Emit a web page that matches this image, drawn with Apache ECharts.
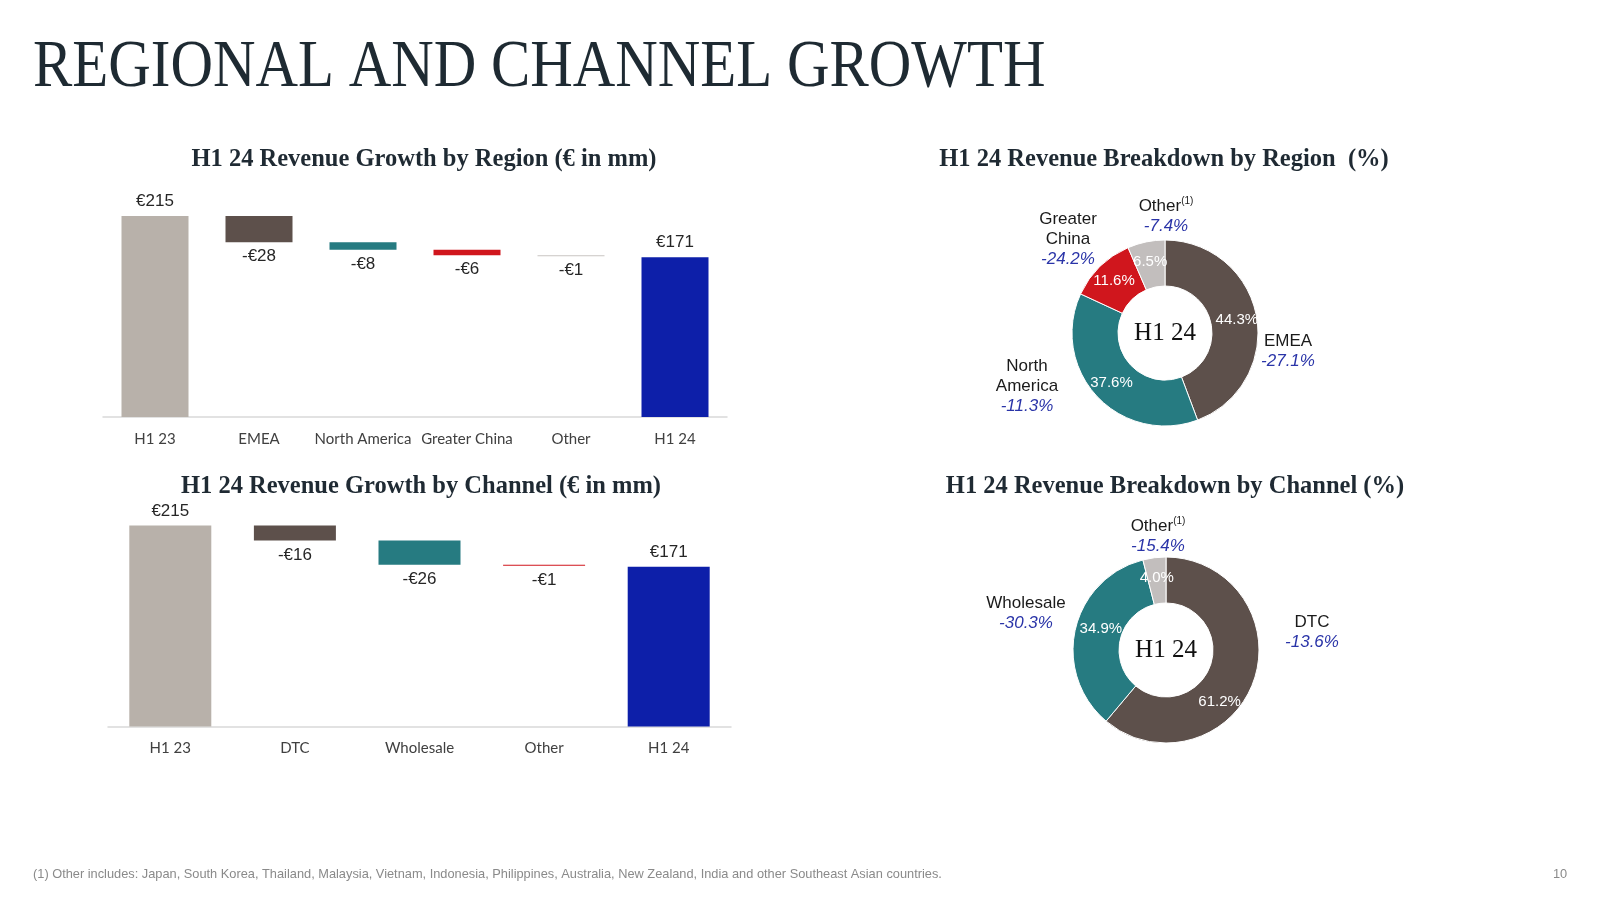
<!DOCTYPE html>
<html>
<head>
<meta charset="utf-8">
<style>
html,body{margin:0;padding:0;background:#fff;}
#c{width:1600px;height:899px;}
</style>
<script src="https://cdn.jsdelivr.net/npm/echarts@6/dist/echarts.min.js"></script>
</head>
<body>
<div id="c"></div>
<script>
// ---------- DATA ----------
const regionCats = ['H1 23', 'EMEA', 'North America', 'Greater China', 'Other', 'H1 24'];
const regionStart = 215;
const regionDeltas = [-28, -8, -6, -1];
const regionEnd = 171;

const channelCats = ['H1 23', 'DTC', 'Wholesale', 'Other', 'H1 24'];
const channelStart = 215;
const channelDeltas = [-16, -26, -1];
const channelEnd = 171;

const regionShareNames = ['EMEA', 'North America', 'Greater China', 'Other'];
const regionShares = [44.3, 37.6, 11.6, 6.5];
const regionGrowth = [-27.1, -11.3, -24.2, -7.4];

const channelShareNames = ['DTC', 'Wholesale', 'Other'];
const channelShares = [61.2, 34.9, 4.0];
const channelGrowth = [-13.6, -30.3, -15.4];

const titleText = 'REGIONAL AND CHANNEL GROWTH';
const footnote = '(1) Other includes: Japan, South Korea, Thailand, Malaysia, Vietnam, Indonesia, Philippines, Australia, New Zealand, India and other Southeast Asian countries.';

// ---------- STYLE ----------
const C_GRAY = '#b8b1aa', C_BROWN = '#5d504b', C_TEAL = '#267b81', C_RED = '#d0161d',
      C_BLUE = '#0d1fa9', C_LIGHT = '#c9c5c2', C_PIEGRAY = '#c2bebd', C_GROWTH = '#2a34a8';
const regionBarColors = [C_GRAY, C_BROWN, C_TEAL, C_RED, C_LIGHT, C_BLUE];
const channelBarColors = [C_GRAY, C_BROWN, C_TEAL, C_RED, C_BLUE];
const regionPieColors = [C_BROWN, C_TEAL, C_RED, C_PIEGRAY];
const channelPieColors = [C_BROWN, C_TEAL, C_PIEGRAY];
const regionDisplay = ['EMEA', 'North\nAmerica', 'Greater\nChina', 'Other'];
const channelDisplay = ['DTC', 'Wholesale', 'Other'];
const regionCenter = [1165, 333], channelCenter = [1166, 650];
const regionLabelOff = [[123, 18], [-138, 53], [-97, -94], [1, -117]];
const channelLabelOff = [[146, -18], [-140, -37], [-8, -114]];
const channelInsideOff = [[-15, 27], [6, -5], [0, 0]];
const SANS = '"Liberation Sans", Arial, sans-serif';
const SERIF = '"Liberation Serif", "DejaVu Serif", serif';

function euro(v) { return v < 0 ? '-€' + (-v) : '€' + v; }

function waterfall(start, deltas, end) {
  const base = [0], vals = [start], signed = [start];
  let level = start;
  deltas.forEach(d => { level += d; base.push(level); vals.push(-d); signed.push(d); });
  base.push(0); vals.push(end); signed.push(end);
  return { base, vals, signed };
}

function barSeries(wf, colors, axisIdx) {
  const n = wf.vals.length;
  const bw = axisIdx === 0 ? 67 : 82;
  return [
    {
      type: 'bar', xAxisIndex: axisIdx, yAxisIndex: axisIdx, stack: 'w' + axisIdx,
      data: wf.base, silent: true, itemStyle: { color: 'rgba(0,0,0,0)' }, barWidth: bw
    },
    {
      type: 'bar', xAxisIndex: axisIdx, yAxisIndex: axisIdx, stack: 'w' + axisIdx,
      barWidth: bw,
      data: wf.vals.map((v, i) => ({
        value: v,
        itemStyle: { color: colors[i] },
        label: { position: (i === 0 || i === n - 1) ? 'top' : 'bottom' }
      })),
      label: {
        show: true, distance: 6, fontFamily: SANS, fontSize: 17, color: '#262626',
        formatter: p => euro(wf.signed[p.dataIndex])
      }
    }
  ];
}

const rw = waterfall(regionStart, regionDeltas, regionEnd);
const cw = waterfall(channelStart, channelDeltas, channelEnd);

function outerLabels(names, shares, display, growth, center, offs) {
  return {
    type: 'pie', radius: [47, 93], center: center, silent: true, avoidLabelOverlap: false,
    itemStyle: { color: 'rgba(0,0,0,0)' },
    data: names.map((n, i) => ({ name: n, value: shares[i] })),
    label: {
      show: true, position: 'outside',
      formatter: p => {
        const i = p.dataIndex;
        const nm = display[i].split('\n').map(l => '{n|' + l + '}').join('\n');
        const sup = names[i] === 'Other' ? '{s|(1)}' : '';
        return nm + sup + '\n{g|' + growth[i].toFixed(1) + '%}';
      },
      rich: {
        n: { fontFamily: SANS, fontSize: 17, color: '#1a1a1a', lineHeight: 20, align: 'center' },
        s: { fontFamily: SANS, fontSize: 10, color: '#1a1a1a', lineHeight: 20, verticalAlign: 'top', padding: [0, 0, 6, 0] },
        g: { fontFamily: SANS, fontSize: 17, fontStyle: 'italic', color: C_GROWTH, lineHeight: 20, align: 'center' }
      }
    },
    labelLine: { show: false },
    labelLayout: p => ({
      x: center[0] + offs[p.dataIndex][0], y: center[1] + offs[p.dataIndex][1],
      align: 'center', verticalAlign: 'middle'
    })
  };
}

function donut(names, shares, colors, center, insideOff) {
  const s = {
    type: 'pie', radius: [47, 93], center: center, startAngle: 90, clockwise: true,
    avoidLabelOverlap: false,
    itemStyle: { borderColor: '#fff', borderWidth: 1 },
    data: names.map((n, i) => ({ name: n, value: shares[i], itemStyle: { color: colors[i] } })),
    label: {
      show: true, position: 'inside', fontFamily: SANS, fontSize: 15, color: '#fff',
      formatter: p => p.value.toFixed(1) + '%'
    },
    labelLine: { show: false }
  };
  if (insideOff) s.labelLayout = p => ({ dx: insideOff[p.dataIndex][0], dy: insideOff[p.dataIndex][1] });
  return s;
}

const subStyle = { fontFamily: SERIF, fontSize: 24.5, fontWeight: 'bold', fill: '#1f2a33', textAlign: 'center', textVerticalAlign: 'middle' };
const axisLabelTop = { fontFamily: 'Lato, sans-serif', fontSize: 15, color: '#404040', margin: 15, interval: 0 };
const axisLabelBottom = { fontFamily: 'Lato, sans-serif', fontSize: 15, color: '#404040', margin: 14.5, interval: 0 };

const option = {
  backgroundColor: '#fff',
  animation: false,
  grid: [
    { left: 103, top: 216, width: 624, height: 201 },
    { left: 108, top: 525.5, width: 623, height: 201 }
  ],
  xAxis: [
    {
      gridIndex: 0, type: 'category', data: regionCats,
      axisLine: { lineStyle: { color: '#d9d9d9', width: 1.5 } }, axisTick: { show: false },
      axisLabel: axisLabelTop
    },
    {
      gridIndex: 1, type: 'category', data: channelCats,
      axisLine: { lineStyle: { color: '#d9d9d9', width: 1.5 } }, axisTick: { show: false },
      axisLabel: axisLabelBottom
    }
  ],
  yAxis: [
    { gridIndex: 0, type: 'value', min: 0, max: 215, show: false, splitLine: { show: false } },
    { gridIndex: 1, type: 'value', min: 0, max: 215, show: false, splitLine: { show: false } }
  ],
  series: [
    ...barSeries(rw, regionBarColors, 0),
    ...barSeries(cw, channelBarColors, 1),
    donut(regionShareNames, regionShares, regionPieColors, regionCenter, null),
    outerLabels(regionShareNames, regionShares, regionDisplay, regionGrowth, regionCenter, regionLabelOff),
    donut(channelShareNames, channelShares, channelPieColors, channelCenter, channelInsideOff),
    outerLabels(channelShareNames, channelShares, channelDisplay, channelGrowth, channelCenter, channelLabelOff)
  ],
  graphic: [
    { type: 'text', x: 33, y: 68, scaleX: 0.866, style: { text: titleText, fontFamily: SERIF, fontSize: 68, fill: '#1e2a32', textVerticalAlign: 'middle' } },
    { type: 'text', x: 424, y: 160, style: Object.assign({ text: 'H1 24 Revenue Growth by Region (€ in mm)' }, subStyle) },
    { type: 'text', x: 421, y: 487, style: Object.assign({ text: 'H1 24 Revenue Growth by Channel (€ in mm)' }, subStyle) },
    { type: 'text', x: 1164, y: 160, style: Object.assign({ text: 'H1 24 Revenue Breakdown by Region  (%)' }, subStyle) },
    { type: 'text', x: 1175, y: 487, style: Object.assign({ text: 'H1 24 Revenue Breakdown by Channel (%)' }, subStyle) },
    { type: 'text', x: regionCenter[0], y: regionCenter[1], style: { text: 'H1 24', fontFamily: SERIF, fontSize: 25, fill: '#111', textAlign: 'center', textVerticalAlign: 'middle' } },
    { type: 'text', x: channelCenter[0], y: channelCenter[1], style: { text: 'H1 24', fontFamily: SERIF, fontSize: 25, fill: '#111', textAlign: 'center', textVerticalAlign: 'middle' } },
    { type: 'text', x: 33, y: 874, style: { text: footnote, fontFamily: SANS, fontSize: 12.8, fill: '#8a8a8a', textVerticalAlign: 'middle' } },
    { type: 'text', x: 1560, y: 874, style: { text: '10', fontFamily: SANS, fontSize: 12.8, fill: '#8a8a8a', textAlign: 'center', textVerticalAlign: 'middle' } }
  ]
};

const chart = echarts.init(document.getElementById('c'));
chart.setOption(option);
</script>
</body>
</html>
